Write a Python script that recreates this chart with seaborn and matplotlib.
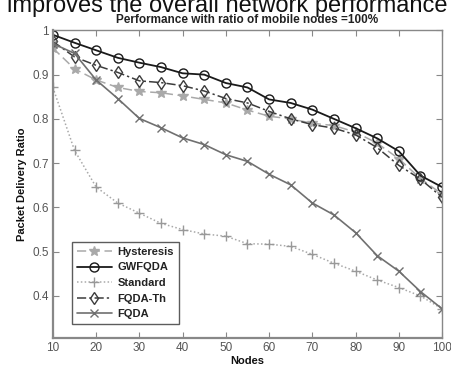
import numpy as np
import pandas as pd
import matplotlib
matplotlib.use("Agg")
import matplotlib.pyplot as plt
import seaborn as sns

nodes = [10, 15, 20, 25, 30, 35, 40, 45, 50, 55, 60, 65, 70, 75, 80, 85, 90, 95, 100]
hysteresis = [0.960, 0.913, 0.888, 0.871, 0.862, 0.859, 0.852, 0.844, 0.836, 0.820, 0.806, 0.800, 0.790, 0.785, 0.770, 0.745, 0.710, 0.665, 0.630]
gwfqda = [0.990, 0.972, 0.955, 0.938, 0.927, 0.917, 0.903, 0.900, 0.881, 0.871, 0.844, 0.836, 0.821, 0.800, 0.779, 0.756, 0.727, 0.672, 0.646]
standard = [0.871, 0.729, 0.646, 0.610, 0.587, 0.564, 0.550, 0.540, 0.535, 0.518, 0.517, 0.512, 0.494, 0.474, 0.456, 0.436, 0.419, 0.400, 0.371]
fqda_th = [0.975, 0.940, 0.921, 0.905, 0.886, 0.882, 0.875, 0.863, 0.846, 0.836, 0.817, 0.800, 0.787, 0.779, 0.764, 0.735, 0.695, 0.664, 0.623]
fqda = [0.970, 0.948, 0.888, 0.846, 0.801, 0.780, 0.757, 0.742, 0.719, 0.704, 0.675, 0.651, 0.610, 0.583, 0.543, 0.491, 0.456, 0.410, 0.371]

series_names = ["Hysteresis", "GWFQDA", "Standard", "FQDA-Th", "FQDA"]
series_values = [hysteresis, gwfqda, standard, fqda_th, fqda]
x_ticks = [10, 20, 30, 40, 50, 60, 70, 80, 90, 100]
y_ticks = [0.4, 0.5, 0.6, 0.7, 0.8, 0.9, 1.0]
y_tick_labels = ["0.4", "0.5", "0.6", "0.7", "0.8", "0.9", "1"]

styles = {
    "Hysteresis": dict(color="#a9a9a9", linestyle=(0, (6, 3)), marker="*", markersize=7, mfc="#a9a9a9", mec="#a9a9a9", lw=1.1),
    "GWFQDA": dict(color="#1a1a1a", linestyle="-", marker="o", markersize=6.5, mfc="none", mec="#1a1a1a", lw=1.3),
    "Standard": dict(color="#a9a9a9", linestyle=(0, (1, 1.5)), marker="+", markersize=7, mfc="none", mec="#999999", lw=1.1),
    "FQDA-Th": dict(color="#3c3c3c", linestyle=(0, (6, 2, 1.5, 2)), marker="d", markersize=6, mfc="none", mec="#3c3c3c", lw=1.1),
    "FQDA": dict(color="#707070", linestyle="-", marker="x", markersize=6, mfc="none", mec="#707070", lw=1.2),
}

sns.set_theme(style="white")
plt.rcParams['font.family'] = ['Liberation Sans', 'DejaVu Sans']

fig = plt.figure(figsize=(4.52, 3.68), dpi=100)
ax = fig.add_axes([0.117, 0.0815, 0.861, 0.836])

for name, vals in zip(series_names, series_values):
    df = pd.DataFrame({"Nodes": nodes, "PDR": vals})
    st = styles[name]
    sns.lineplot(data=df, x="Nodes", y="PDR", ax=ax, label=name,
                 color=st["color"], linestyle=st["linestyle"], marker=st["marker"],
                 markersize=st["markersize"], markerfacecolor=st["mfc"],
                 markeredgecolor=st["mec"], markeredgewidth=1.0, linewidth=st["lw"])

ax.set_xlim(10, 100)
ax.set_ylim(0.305, 1.0)
ax.set_xticks(x_ticks)
ax.set_yticks(y_ticks)
ax.set_yticklabels(y_tick_labels)
ax.tick_params(axis="both", which="both", direction="in", length=4, width=0.8,
               colors="#888888", labelcolor="#555555", labelsize=8.5,
               top=True, right=True, bottom=True, left=True, pad=3)
for sp in ax.spines.values():
    sp.set_color("#888888")
    sp.set_linewidth(1.0)
ax.spines["left"].set_linewidth(1.6)
ax.spines["bottom"].set_linewidth(1.6)

ax.set_xlabel("Nodes", fontsize=8, fontweight="bold", color="#111111", labelpad=1)
ax.set_ylabel("Packet Delivery Ratio", fontsize=8, fontweight="bold", color="#111111", labelpad=4)
ax.set_title("Performance with ratio of mobile nodes =100%", fontsize=8.5, fontweight="bold",
             color="#222222", pad=5)

leg = ax.legend(loc="lower left", bbox_to_anchor=(0.048, 0.045), fontsize=8, frameon=True,
                fancybox=False, edgecolor="#333333", handlelength=3.2, handletextpad=0.5,
                borderpad=0.45, labelspacing=0.5, borderaxespad=0)
leg.get_frame().set_linewidth(1.0)
for t in leg.get_texts():
    t.set_fontweight("bold")
    t.set_color("#222222")

fig.text(0.016, 0.968, "improves the overall network performance", fontsize=17,
         color="#111111", va="baseline", ha="left")

fig.savefig("out.png", dpi=100)
